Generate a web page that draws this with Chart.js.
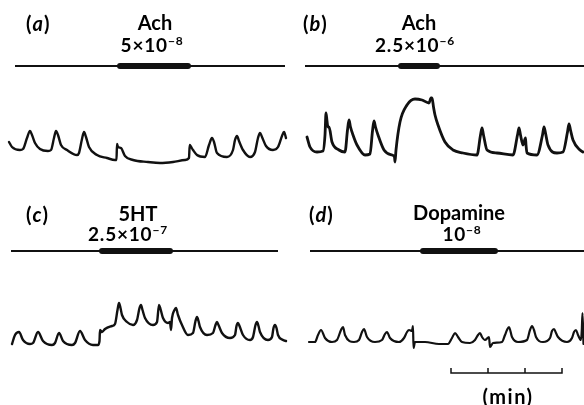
<!DOCTYPE html>
<html>
<head>
<meta charset="utf-8">
<script src="https://cdn.jsdelivr.net/npm/chart.js@4"></script>
<style>
  html, body { margin: 0; padding: 0; background: #fff; }
  #wrap { position: relative; width: 584px; height: 405px; overflow: hidden; }
  #c { position: absolute; left: 0; top: 0; }
  .lbl { position: absolute; font-family: Lato, "Open Sans", sans-serif; font-weight: 700; color: #000; white-space: nowrap; line-height: 1; }
  .ctr { transform: translate(-50%, -50%); }
  .lft { transform: translate(0, -50%); }
  .name { font-size: 20px; }
  .dose { font-size: 19px; letter-spacing: 0.8px; }
  .dose sup { font-size: 12px; vertical-align: 7px; }
  .letter { font-size: 20px; letter-spacing: 1px; }
  .letter i { font-style: italic; }
  .unit { font-size: 20px; letter-spacing: 1.5px; }
</style>
</head>
<body>
<div id="wrap">
  <canvas id="c" width="584" height="405"></canvas>
</div>
<script>
// ---------------- DATA ----------------
const panelLetters = ['a', 'b', 'c', 'd'];
const drugNames    = ['Ach', 'Ach', '5HT', 'Dopamine'];
const doseCoef     = ['5', '2.5', '2.5', ''];
const doseExp      = ['8', '6', '7', '8'];

// recording window and drug application (panel time units)
const recordStart = [15, 13, 11, 18];
const recordEnd   = [285, 292, 278, 292];
const drugOn      = [120, 109, 102, 131];
const drugOff     = [188, 145, 170, 203];

// traces: time and tension (arbitrary units)
const traceA_t = [9, 12, 20, 23, 27, 30, 32, 35, 40, 48, 51, 54, 56, 58, 61, 67, 77, 79, 82, 84, 86, 89, 97, 107, 115, 116.5, 117, 118, 121, 125, 133, 148, 160, 173, 185, 189, 189.7, 190.5, 193, 197, 205, 209, 212, 214, 217, 227, 233, 235, 237, 239, 243, 250, 255, 258, 260, 262, 266, 273, 278, 282, 284, 286];
const traceA_v = [23, 18, 15, 16, 27, 34, 30, 22, 16, 14, 15, 27, 34, 30, 20, 15, 10, 12, 26, 33, 28, 18, 10, 7, 5, 5, 21, 18, 17, 9, 5, 3, 2, 3, 5, 7, 20, 19, 15, 10, 8, 20, 27, 23, 12, 8, 15, 25, 29, 24, 15, 8, 13, 27, 32, 28, 19, 15, 18, 29, 33, 27];

const traceB_t = [15, 18, 25, 31, 33, 34, 35, 36, 37, 40, 47, 53, 55.5, 57, 58.5, 61, 65, 73, 78, 80.5, 82, 83.5, 86, 92, 100, 102.5, 103, 104, 108, 115, 123, 130, 137, 139, 140, 141.5, 143, 146, 153, 161, 171, 185, 188.5, 190, 191.5, 195, 205, 221, 225.5, 227, 228.5, 231, 233.5, 234, 235, 245, 250.5, 252, 253.5, 256, 265, 271, 275.5, 277, 278.5, 281, 288, 291];
const traceB_v = [28, 18, 13, 14, 30, 52, 44, 38, 38, 23, 15, 13, 35, 45, 38, 30, 20, 10, 11, 34, 44, 38, 30, 15, 10, 8, 3, 15, 43, 60, 66, 65, 62, 67, 67, 58, 50, 40, 23, 15, 12, 10, 30, 37, 30, 15, 12, 10, 30, 37, 30, 20, 27, 20, 12, 10, 30, 38, 32, 20, 12, 13, 33, 41, 35, 25, 15, 13];

const traceC_t = [12, 15, 19, 23, 30, 33, 38, 43, 52, 55, 59, 63, 72, 75, 80, 85, 93, 98, 99.5, 100, 102, 105, 112, 115, 117.5, 119, 120.5, 122, 127, 133, 137, 139.5, 141, 142.5, 145, 153, 157, 159, 160.5, 163, 168, 170, 171, 172, 174.5, 176, 178, 182, 188, 193, 195.5, 197, 198.5, 200, 207, 213, 215.5, 217, 218.5, 222, 230, 235, 236.5, 238, 239.5, 243, 250, 253, 255.5, 257, 258.5, 260, 268, 272, 273.5, 275, 276.5, 278, 283, 286];
const traceC_v = [6, 15, 18, 10, 6, 7, 18, 9, 5, 7, 17, 9, 5, 7, 19, 10, 5, 5, 9, 20, 18, 21, 24, 26, 40, 47, 42, 35, 28, 25, 30, 42, 45, 40, 32, 25, 28, 45, 41, 32, 27, 28, 20, 32, 40, 42, 35, 25, 15, 17, 29, 33, 29, 23, 15, 17, 25, 28, 25, 17, 12, 15, 24, 27, 24, 15, 10, 13, 25, 28, 24, 18, 10, 13, 22, 25, 22, 15, 10, 9];

const traceD_t = [17, 23, 26, 29, 33, 40, 45, 49, 51, 53, 62, 67, 70, 72, 75, 83, 90, 93, 95, 98, 107, 112, 115, 117, 120, 121, 121.5, 123, 133, 147, 156, 160, 163, 166, 170, 178, 183, 186, 188, 190, 193, 197, 198, 201, 210, 213, 215, 217, 220, 226, 235, 238, 240, 242, 244, 251, 258, 260, 262, 264, 266, 275, 280, 282, 284, 286, 289, 289.8, 290.5, 291.5];
const traceD_v = [8, 8, 15, 20, 12, 8, 10, 20, 23, 15, 8, 10, 18, 21, 13, 8, 10, 16, 18, 12, 8, 12, 18, 20, 19, 24, 2, 8, 8, 6, 6, 12, 17, 13, 8, 7, 10, 15, 17, 13, 10, 13, 3, 7, 8, 15, 20, 23, 13, 8, 10, 20, 24, 20, 13, 8, 12, 19, 21, 17, 13, 8, 12, 18, 20, 15, 10, 20, 37, 6];

// time scale bar (minutes)
const scaleBarMinutes = [0, 1, 2, 3];
const scaleBarLabel = '(min)';

// ---------------- LAYOUT ----------------
const panelLeft = [0, 292, 0, 292];
const panelBase = [165, 165, 350, 350];
const markerLevel = 99;
const traces = [[traceA_t, traceA_v], [traceB_t, traceB_v], [traceC_t, traceC_v], [traceD_t, traceD_v]];
const traceWidth = [2.4, 2.8, 2.4, 2.2];
const sbPanel = 3, sbStart = 159, sbPerMin = 37, sbLevel = -23, sbTick = 5;

const ink = '#111';
const datasets = [];
traces.forEach(([t, v], i) => {
  const L = panelLeft[i], B = panelBase[i];
  datasets.push({
    data: t.map((x, k) => ({ x: x + L, y: B - v[k] })),
    borderColor: ink, borderWidth: traceWidth[i], cubicInterpolationMode: 'monotone',
    borderJoinStyle: 'round', borderCapStyle: 'round'
  });
  const my = B - markerLevel;
  datasets.push({
    data: [{ x: recordStart[i] + L, y: my }, { x: recordEnd[i] + L, y: my }],
    borderColor: ink, borderWidth: 2, tension: 0
  });
  datasets.push({
    data: [{ x: drugOn[i] + L, y: my }, { x: drugOff[i] + L, y: my }],
    borderColor: ink, borderWidth: 6, tension: 0, borderCapStyle: 'round'
  });
});
// scale bar
(function () {
  const L = panelLeft[sbPanel], B = panelBase[sbPanel];
  const pts = [];
  scaleBarMinutes.forEach((m, k) => {
    const x = L + sbStart + m * sbPerMin;
    if (k === 0) { pts.push({ x, y: B - (sbLevel + sbTick) }); pts.push({ x, y: B - sbLevel }); }
    else { pts.push({ x, y: B - sbLevel }); pts.push({ x, y: B - (sbLevel + sbTick) }); pts.push({ x, y: B - sbLevel }); }
  });
  datasets.push({ data: pts, borderColor: ink, borderWidth: 1.5, tension: 0 });
})();

datasets.forEach(d => { d.showLine = true; d.pointRadius = 0; d.fill = false; d.clip = false; });

new Chart(document.getElementById('c'), {
  type: 'scatter',
  data: { datasets },
  options: {
    responsive: false, animation: false, events: [],
    layout: { padding: 0 },
    plugins: { legend: { display: false }, tooltip: { enabled: false } },
    scales: {
      x: { type: 'linear', min: 0, max: 584, display: false },
      y: { type: 'linear', min: 0, max: 405, reverse: true, display: false }
    }
  }
});

// ---------------- TEXT ----------------
const wrap = document.getElementById('wrap');
function addLabel(html, cls, x, y) {
  const d = document.createElement('div');
  d.className = 'lbl ' + cls;
  d.innerHTML = html;
  d.style.left = x + 'px';
  d.style.top = y + 'px';
  wrap.appendChild(d);
}
const letterPos = [[26, 23], [303, 23], [26, 214], [309, 214]];
const namePos   = [[155, 22], [419, 22], [138, 213], [459, 212]];
const dosePos   = [[152, 44], [415, 44], [128, 233], [462, 233]];
panelLetters.forEach((l, i) => {
  addLabel('(<i>' + l + '</i>)', 'letter lft', letterPos[i][0], letterPos[i][1]);
  addLabel(drugNames[i], 'name ctr', namePos[i][0], namePos[i][1]);
  const coef = doseCoef[i] ? doseCoef[i] + '\u00d7' : '';
  addLabel(coef + '10<sup>\u2212' + doseExp[i] + '</sup>', 'dose ctr', dosePos[i][0], dosePos[i][1]);
});
addLabel(scaleBarLabel, 'unit ctr', 508, 396);
</script>
</body>
</html>
